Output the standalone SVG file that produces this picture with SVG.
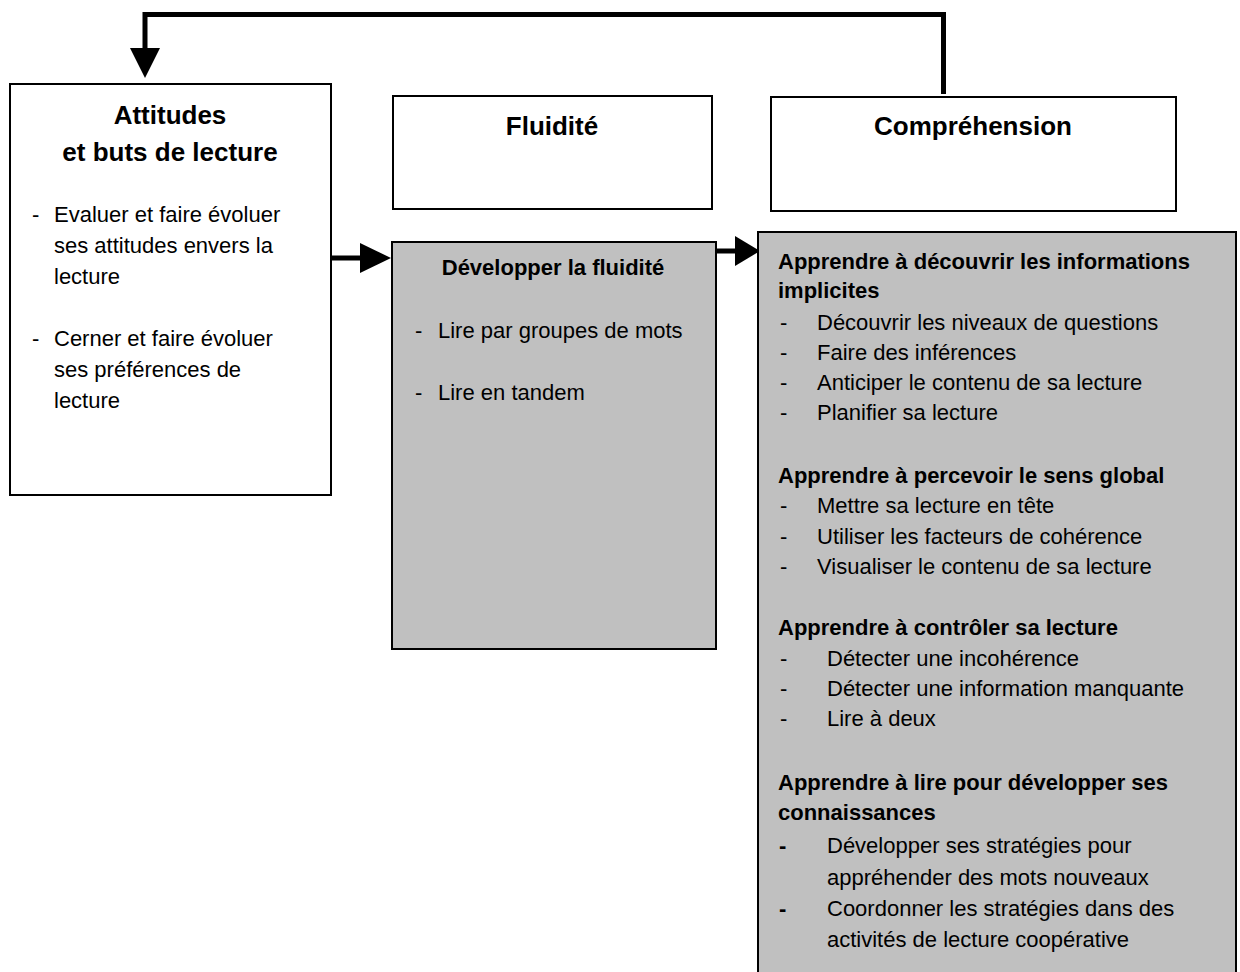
<svg xmlns="http://www.w3.org/2000/svg" width="1240" height="972" viewBox="0 0 1240 972">
<style>
.box{fill:#fff;stroke:#000;stroke-width:2}
.gbox{fill:#c0c0c0;stroke:#000;stroke-width:2}
text{font-family:"Liberation Sans",Arial,sans-serif;fill:#000}
.title{font-size:26px;font-weight:bold;text-anchor:middle}
.h{font-size:22px;font-weight:bold}
.t{font-size:22px}
.conn{fill:none;stroke:#000;stroke-width:5}
.head{fill:#000}
</style>
<rect width="1240" height="972" fill="#fff"/>
<g id="connectors">
  <polyline class="conn" points="943.5,94 943.5,14.5 145,14.5 145,50"/>
  <polygon class="head" points="130,48 160,48 145,78"/>
  <line class="conn" x1="327" y1="258" x2="362" y2="258"/>
  <polygon class="head" points="360,243 360,273 391,258"/>
  <line class="conn" x1="716" y1="251" x2="737" y2="251"/>
  <polygon class="head" points="735,236 735,266 760,251"/>
</g>
<g id="attitudes">
  <rect class="box" x="10" y="84" width="321" height="411"/>
  <text class="title" x="170" y="124">Attitudes</text>
  <text class="title" x="170" y="161">et buts de lecture</text>
  <text class="t" x="32" y="222">-</text>
  <text class="t" x="54" y="222">Evaluer et faire évoluer</text>
  <text class="t" x="54" y="253">ses attitudes envers la</text>
  <text class="t" x="54" y="284">lecture</text>
  <text class="t" x="32" y="346">-</text>
  <text class="t" x="54" y="346">Cerner et faire évoluer</text>
  <text class="t" x="54" y="377">ses préférences de</text>
  <text class="t" x="54" y="408">lecture</text>
</g>
<g id="fluidite">
  <rect class="box" x="393" y="96" width="319" height="113"/>
  <text class="title" x="552" y="135">Fluidité</text>
</g>
<g id="comprehension">
  <rect class="box" x="771" y="97" width="405" height="114"/>
  <text class="title" x="973" y="135">Compréhension</text>
</g>
<g id="developper-fluidite">
  <rect class="gbox" x="392" y="242" width="324" height="407"/>
  <text class="h" x="553" y="275" text-anchor="middle">Développer la fluidité</text>
  <text class="t" x="415" y="338">-</text>
  <text class="t" x="438" y="338">Lire par groupes de mots</text>
  <text class="t" x="415" y="400">-</text>
  <text class="t" x="438" y="400">Lire en tandem</text>
</g>
<g id="strategies-comprehension">
  <rect class="gbox" x="758" y="232" width="478" height="760"/>
  <text class="h" x="778" y="269">Apprendre à découvrir les informations</text>
  <text class="h" x="778" y="298">implicites</text>
  <text class="t" x="780" y="330">-</text>
  <text class="t" x="817" y="330">Découvrir les niveaux de questions</text>
  <text class="t" x="780" y="360">-</text>
  <text class="t" x="817" y="360">Faire des inférences</text>
  <text class="t" x="780" y="390">-</text>
  <text class="t" x="817" y="390">Anticiper le contenu de sa lecture</text>
  <text class="t" x="780" y="420">-</text>
  <text class="t" x="817" y="420">Planifier sa lecture</text>

  <text class="h" x="778" y="483">Apprendre à percevoir le sens global</text>
  <text class="t" x="780" y="513">-</text>
  <text class="t" x="817" y="513">Mettre sa lecture en tête</text>
  <text class="t" x="780" y="544">-</text>
  <text class="t" x="817" y="544">Utiliser les facteurs de cohérence</text>
  <text class="t" x="780" y="574">-</text>
  <text class="t" x="817" y="574">Visualiser le contenu de sa lecture</text>

  <text class="h" x="778" y="635">Apprendre à contrôler sa lecture</text>
  <text class="t" x="780" y="666">-</text>
  <text class="t" x="827" y="666">Détecter une incohérence</text>
  <text class="t" x="780" y="696">-</text>
  <text class="t" x="827" y="696">Détecter une information manquante</text>
  <text class="t" x="780" y="726">-</text>
  <text class="t" x="827" y="726">Lire à deux</text>

  <text class="h" x="778" y="790">Apprendre à lire pour développer ses</text>
  <text class="h" x="778" y="820">connaissances</text>
  <text class="h" x="779" y="853">-</text>
  <text class="t" x="827" y="853">Développer ses stratégies pour</text>
  <text class="t" x="827" y="885">appréhender des mots nouveaux</text>
  <text class="h" x="779" y="916">-</text>
  <text class="t" x="827" y="916">Coordonner les stratégies dans des</text>
  <text class="t" x="827" y="947">activités de lecture coopérative</text>
</g>
</svg>
